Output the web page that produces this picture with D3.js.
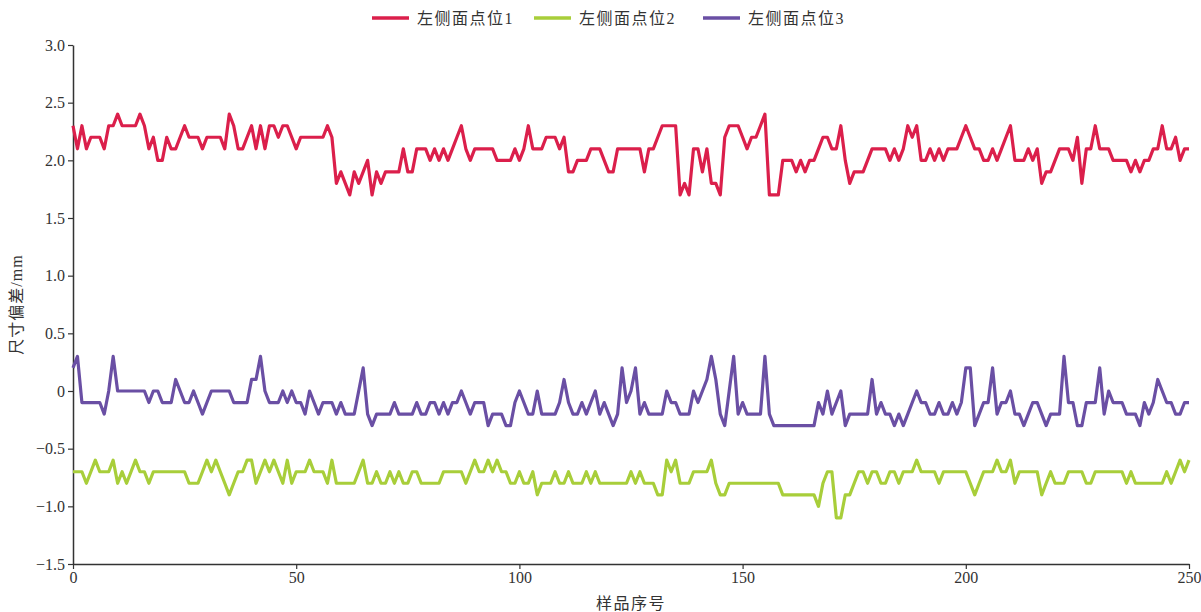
<!DOCTYPE html>
<html lang="zh">
<head>
<meta charset="utf-8">
<title>左侧面点位尺寸偏差</title>
<script src="https://cdn.jsdelivr.net/npm/d3@7/dist/d3.min.js"></script>
<style>
  body { margin: 0; background: #fff; }
  text { font-family: "Liberation Serif", "Noto Sans CJK SC", serif; fill: #333; }
</style>
</head>
<body>
<script>
// 数据：样品序号 0..250，三个点位的尺寸偏差 (mm)
var seriesNames = ["左侧面点位1", "左侧面点位2", "左侧面点位3"];
var seriesColors = ["#db1f4b", "#a8ce3a", "#6a4fa4"];
var xTicks = [0, 50, 100, 150, 200, 250];
var yTicks = [3.0, 2.5, 2.0, 1.5, 1.0, 0.5, 0, -0.5, -1.0, -1.5];

var point1 = [
  2.3,2.1,2.3,2.1,2.2,2.2,2.2,2.1,2.3,2.3,
  2.4,2.3,2.3,2.3,2.3,2.4,2.3,2.1,2.2,2.0,
  2.0,2.2,2.1,2.1,2.2,2.3,2.2,2.2,2.2,2.1,
  2.2,2.2,2.2,2.2,2.1,2.4,2.3,2.1,2.1,2.2,
  2.3,2.1,2.3,2.1,2.3,2.3,2.2,2.3,2.3,2.2,
  2.1,2.2,2.2,2.2,2.2,2.2,2.2,2.3,2.2,1.8,
  1.9,1.8,1.7,1.9,1.8,1.9,2.0,1.7,1.9,1.8,
  1.9,1.9,1.9,1.9,2.1,1.9,1.9,2.1,2.1,2.1,
  2.0,2.1,2.0,2.1,2.0,2.1,2.2,2.3,2.1,2.0,
  2.1,2.1,2.1,2.1,2.1,2.0,2.0,2.0,2.0,2.1,
  2.0,2.1,2.3,2.1,2.1,2.1,2.2,2.2,2.2,2.1,
  2.2,1.9,1.9,2.0,2.0,2.0,2.1,2.1,2.1,2.0,
  1.9,1.9,2.1,2.1,2.1,2.1,2.1,2.1,1.9,2.1,
  2.1,2.2,2.3,2.3,2.3,2.3,1.7,1.8,1.7,2.1,
  2.1,1.9,2.1,1.8,1.8,1.7,2.2,2.3,2.3,2.3,
  2.2,2.1,2.2,2.2,2.3,2.4,1.7,1.7,1.7,2.0,
  2.0,2.0,1.9,2.0,1.9,2.0,2.0,2.1,2.2,2.2,
  2.1,2.1,2.3,2.0,1.8,1.9,1.9,1.9,2.0,2.1,
  2.1,2.1,2.1,2.0,2.1,2.0,2.1,2.3,2.2,2.3,
  2.0,2.0,2.1,2.0,2.1,2.0,2.1,2.1,2.1,2.2,
  2.3,2.2,2.1,2.1,2.0,2.0,2.1,2.0,2.1,2.2,
  2.3,2.0,2.0,2.0,2.1,2.0,2.1,1.8,1.9,1.9,
  2.0,2.1,2.1,2.1,2.0,2.2,1.8,2.1,2.1,2.3,
  2.1,2.1,2.1,2.0,2.0,2.0,2.0,1.9,2.0,1.9,
  2.0,2.0,2.1,2.1,2.3,2.1,2.1,2.2,2.0,2.1,
  2.1
];

var point2 = [
  -0.7,-0.7,-0.7,-0.8,-0.7,-0.6,-0.7,-0.7,-0.7,-0.6,
  -0.8,-0.7,-0.8,-0.7,-0.6,-0.7,-0.7,-0.8,-0.7,-0.7,
  -0.7,-0.7,-0.7,-0.7,-0.7,-0.7,-0.8,-0.8,-0.8,-0.7,
  -0.6,-0.7,-0.6,-0.7,-0.8,-0.9,-0.8,-0.7,-0.7,-0.6,
  -0.6,-0.8,-0.7,-0.6,-0.7,-0.6,-0.7,-0.8,-0.6,-0.8,
  -0.7,-0.7,-0.7,-0.6,-0.7,-0.7,-0.7,-0.8,-0.6,-0.8,
  -0.8,-0.8,-0.8,-0.8,-0.7,-0.6,-0.8,-0.8,-0.7,-0.8,
  -0.8,-0.7,-0.8,-0.7,-0.8,-0.8,-0.7,-0.7,-0.8,-0.8,
  -0.8,-0.8,-0.8,-0.7,-0.7,-0.7,-0.7,-0.7,-0.8,-0.7,
  -0.6,-0.7,-0.7,-0.6,-0.7,-0.6,-0.7,-0.7,-0.8,-0.8,
  -0.7,-0.8,-0.8,-0.7,-0.9,-0.8,-0.8,-0.8,-0.7,-0.8,
  -0.8,-0.7,-0.8,-0.8,-0.8,-0.7,-0.8,-0.7,-0.8,-0.8,
  -0.8,-0.8,-0.8,-0.8,-0.8,-0.7,-0.8,-0.7,-0.8,-0.8,
  -0.8,-0.9,-0.9,-0.6,-0.7,-0.6,-0.8,-0.8,-0.8,-0.7,
  -0.7,-0.7,-0.7,-0.6,-0.8,-0.9,-0.9,-0.8,-0.8,-0.8,
  -0.8,-0.8,-0.8,-0.8,-0.8,-0.8,-0.8,-0.8,-0.8,-0.9,
  -0.9,-0.9,-0.9,-0.9,-0.9,-0.9,-0.9,-1.0,-0.8,-0.7,
  -0.7,-1.1,-1.1,-0.9,-0.9,-0.8,-0.7,-0.7,-0.8,-0.7,
  -0.7,-0.8,-0.8,-0.7,-0.7,-0.8,-0.7,-0.7,-0.7,-0.6,
  -0.7,-0.7,-0.7,-0.7,-0.8,-0.7,-0.7,-0.7,-0.7,-0.7,
  -0.7,-0.8,-0.9,-0.8,-0.7,-0.7,-0.7,-0.6,-0.7,-0.7,
  -0.6,-0.8,-0.7,-0.7,-0.7,-0.7,-0.7,-0.9,-0.8,-0.7,
  -0.8,-0.8,-0.8,-0.7,-0.7,-0.7,-0.7,-0.8,-0.8,-0.7,
  -0.7,-0.7,-0.7,-0.7,-0.7,-0.7,-0.8,-0.7,-0.8,-0.8,
  -0.8,-0.8,-0.8,-0.8,-0.8,-0.7,-0.8,-0.7,-0.6,-0.7,
  -0.6
];

var point3 = [
  0.2,0.3,-0.1,-0.1,-0.1,-0.1,-0.1,-0.2,0.0,0.3,
  0.0,0.0,0.0,0.0,0.0,0.0,0.0,-0.1,0.0,0.0,
  -0.1,-0.1,-0.1,0.1,0.0,-0.1,-0.1,0.0,-0.1,-0.2,
  -0.1,0.0,0.0,0.0,0.0,0.0,-0.1,-0.1,-0.1,-0.1,
  0.1,0.1,0.3,0.0,-0.1,-0.1,-0.1,0.0,-0.1,0.0,
  -0.1,-0.1,-0.2,0.0,-0.1,-0.2,-0.1,-0.1,-0.1,-0.2,
  -0.1,-0.2,-0.2,-0.2,0.0,0.2,-0.2,-0.3,-0.2,-0.2,
  -0.2,-0.2,-0.1,-0.2,-0.2,-0.2,-0.2,-0.1,-0.2,-0.2,
  -0.1,-0.1,-0.2,-0.1,-0.2,-0.1,-0.1,0.0,-0.1,-0.2,
  -0.1,-0.1,-0.1,-0.3,-0.2,-0.2,-0.2,-0.3,-0.3,-0.1,
  0.0,-0.1,-0.2,-0.2,0.0,-0.2,-0.2,-0.2,-0.2,-0.1,
  0.1,-0.1,-0.2,-0.2,-0.1,-0.2,-0.1,0.0,-0.2,-0.1,
  -0.2,-0.3,-0.2,0.2,-0.1,0.0,0.2,-0.2,-0.1,-0.2,
  -0.2,-0.2,-0.2,0.0,-0.1,-0.1,-0.2,-0.2,-0.2,0.0,
  -0.1,0.0,0.1,0.3,0.1,-0.2,-0.3,0.0,0.3,-0.2,
  -0.1,-0.2,-0.2,-0.2,-0.2,0.3,-0.2,-0.3,-0.3,-0.3,
  -0.3,-0.3,-0.3,-0.3,-0.3,-0.3,-0.3,-0.1,-0.2,0.0,
  -0.2,-0.1,0.0,-0.3,-0.2,-0.2,-0.2,-0.2,-0.2,0.1,
  -0.2,-0.1,-0.2,-0.2,-0.3,-0.2,-0.3,-0.2,-0.1,0.0,
  -0.1,-0.1,-0.2,-0.2,-0.1,-0.2,-0.2,-0.1,-0.2,-0.1,
  0.2,0.2,-0.3,-0.2,-0.1,-0.1,0.2,-0.2,-0.1,-0.1,
  0.0,-0.2,-0.2,-0.3,-0.2,-0.1,-0.1,-0.2,-0.3,-0.2,
  -0.2,-0.2,0.3,-0.1,-0.1,-0.3,-0.3,-0.1,-0.1,-0.1,
  0.2,-0.2,0.0,-0.1,-0.1,-0.1,-0.2,-0.2,-0.2,-0.3,
  -0.1,-0.2,-0.1,0.1,0.0,-0.1,-0.1,-0.2,-0.2,-0.1,
  -0.1
];

var allSeries = [point1, point2, point3];

var w = 1201, h = 612;
var margin = { left: 73, right: 12, top: 45, bottom: 48 };

var svg = d3.select("body").append("svg")
    .attr("width", w).attr("height", h);

var x = d3.scaleLinear().domain([0, 250]).range([margin.left, w - margin.right]);
var y = d3.scaleLinear().domain([-1.5, 3.0]).range([h - margin.bottom, margin.top]);

// 坐标轴
var fmtY = function (d) {
    if (d === 0) return "0";
    return (d < 0 ? "\u2212" : "") + Math.abs(d).toFixed(1);
};

var yAxis = svg.append("g")
    .attr("transform", "translate(" + margin.left + ",0)")
    .call(d3.axisLeft(y).tickValues(yTicks).tickFormat(fmtY).tickSize(5).tickSizeOuter(0));

var xAxis = svg.append("g")
    .attr("transform", "translate(0," + (h - margin.bottom) + ")")
    .call(d3.axisBottom(x).tickValues(xTicks).tickSize(5).tickSizeOuter(0));

[yAxis, xAxis].forEach(function (g) {
    g.select(".domain").attr("stroke", "#333").attr("stroke-width", 1.5);
    g.selectAll(".tick line").attr("stroke", "#333").attr("stroke-width", 1.2);
    g.selectAll(".tick text")
        .style("font-family", "'Liberation Serif', serif")
        .attr("font-size", 16).attr("fill", "#333");
});
yAxis.selectAll(".tick text").attr("x", -8);
xAxis.selectAll(".tick text").attr("y", 8);

// 轴标题
svg.append("text")
    .attr("transform", "translate(22," + ((margin.top + h - margin.bottom) / 2) + ") rotate(-90)")
    .attr("text-anchor", "middle")
    .attr("font-size", 16)
    .attr("letter-spacing", 1)
    .text("尺寸偏差/mm");

svg.append("text")
    .attr("x", (margin.left + w - margin.right) / 2)
    .attr("y", 609)
    .attr("text-anchor", "middle")
    .attr("font-size", 16)
    .attr("letter-spacing", 1.5)
    .text("样品序号");

// 折线
var line = d3.line()
    .x(function (d, i) { return x(i); })
    .y(function (d) { return y(d); });

svg.selectAll("path.series")
    .data(allSeries)
    .enter().append("path")
    .attr("class", "series")
    .attr("d", line)
    .attr("fill", "none")
    .attr("stroke", function (d, i) { return seriesColors[i]; })
    .attr("stroke-width", 3.2)
    .attr("stroke-linejoin", "round");

// 图例
var legendX = [372, 534, 703];
var legend = svg.selectAll("g.legend")
    .data(seriesNames)
    .enter().append("g")
    .attr("class", "legend")
    .attr("transform", function (d, i) { return "translate(" + legendX[i] + ",18)"; });

legend.append("line")
    .attr("x1", 0).attr("x2", 37)
    .attr("stroke", function (d, i) { return seriesColors[i]; })
    .attr("stroke-width", 3.5);

legend.append("text")
    .attr("x", 45).attr("y", 6)
    .attr("font-size", 16)
    .attr("letter-spacing", 1.5)
    .text(function (d) { return d; });
</script>
</body>
</html>
